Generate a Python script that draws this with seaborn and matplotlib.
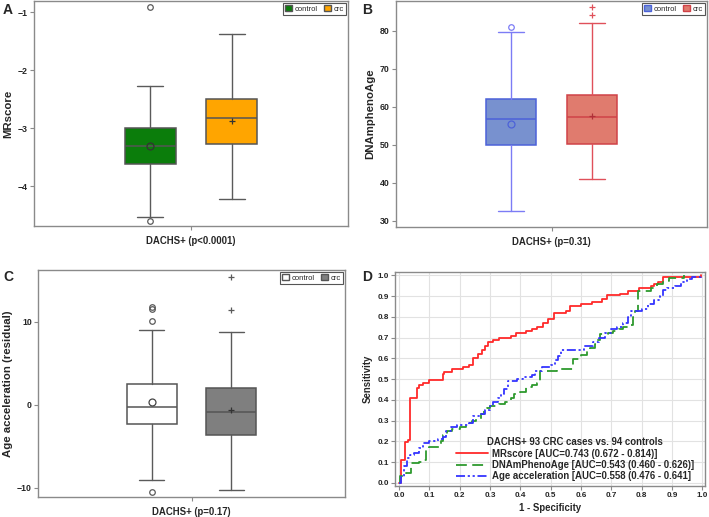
import numpy as np
import pandas as pd
import seaborn as sns
import matplotlib.pyplot as plt
from matplotlib.patches import Patch

# groups / category labels
groups = ["control", "crc"]

# panel A - MRscore box summaries (control, crc)
mr_q1 = [-3.62, -3.27]
mr_med = [-3.31, -2.82]
mr_q3 = [-3.00, -2.50]
mr_lo = [-4.52, -4.22]
mr_hi = [-2.27, -1.38]
mr_mean = [-3.31, -2.87]
mr_out = [[-0.91, -4.60], []]

# panel B - DNAmPhenoAge
ph_q1 = [50.0, 50.1]
ph_med = [56.7, 57.4]
ph_q3 = [62.0, 63.0]
ph_lo = [32.7, 40.9]
ph_hi = [79.7, 81.9]
ph_mean = [55.6, 57.6]
ph_out = [[81.0], [84.2, 86.2]]

# panel C - age acceleration (residual)
aa_q1 = [-2.3, -3.6]
aa_med = [-0.3, -0.85]
aa_q3 = [2.45, 2.05]
aa_lo = [-9.1, -10.3]
aa_hi = [8.95, 8.75]
aa_mean = [0.36, -0.6]
aa_out = [[10.1, 11.55, 11.75, -10.5], [15.4, 11.4]]

# panel D - ROC step curves (fpr where step starts, sensitivity)
red_fpr = [0, 0.008, 0.019, 0.03, 0.037, 0.059, 0.066, 0.079, 0.10, 0.145, 0.15, 0.175,
           0.21, 0.23, 0.245, 0.26, 0.275, 0.285, 0.295, 0.31, 0.33, 0.37, 0.385, 0.42,
           0.44, 0.455, 0.475, 0.49, 0.51, 0.55, 0.565, 0.60, 0.635, 0.67, 0.685, 0.73,
           0.755, 0.79, 0.83, 0.84, 0.855, 0.87, 0.995]
red_tpr = [0, 0.11, 0.195, 0.205, 0.41, 0.455, 0.47, 0.48, 0.495, 0.525, 0.535, 0.55,
           0.56, 0.57, 0.60, 0.62, 0.64, 0.66, 0.68, 0.69, 0.70, 0.71, 0.72, 0.73,
           0.74, 0.75, 0.77, 0.79, 0.82, 0.83, 0.85, 0.86, 0.87, 0.885, 0.905, 0.91,
           0.925, 0.94, 0.95, 0.96, 0.97, 0.99, 1.0]

green_fpr = [0, 0.003, 0.024, 0.04, 0.066, 0.08, 0.09, 0.10, 0.14, 0.145, 0.16, 0.175,
             0.20, 0.22, 0.24, 0.255, 0.27, 0.28, 0.29, 0.30, 0.33, 0.35, 0.37, 0.38,
             0.40, 0.42, 0.44, 0.455, 0.465, 0.52, 0.574, 0.60, 0.62, 0.63, 0.645, 0.65,
             0.662, 0.69, 0.706, 0.725, 0.74, 0.755, 0.77, 0.778, 0.788, 0.83, 0.85,
             0.87, 0.89, 0.94]
green_tpr = [0, 0.035, 0.05, 0.094, 0.10, 0.11, 0.165, 0.175, 0.20, 0.23, 0.25, 0.26,
             0.27, 0.29, 0.30, 0.31, 0.33, 0.35, 0.36, 0.37, 0.38, 0.39, 0.41, 0.43,
             0.44, 0.46, 0.47, 0.48, 0.54, 0.55, 0.595, 0.615, 0.635, 0.65, 0.67, 0.69,
             0.715, 0.72, 0.73, 0.74, 0.75, 0.76, 0.80, 0.83, 0.925, 0.94, 0.96,
             0.975, 0.987, 1.0]

blue_fpr = [0, 0.008, 0.016, 0.025, 0.035, 0.05, 0.065, 0.08, 0.10, 0.13, 0.145, 0.155,
            0.17, 0.19, 0.23, 0.245, 0.27, 0.285, 0.30, 0.31, 0.325, 0.335, 0.345, 0.36,
            0.39, 0.41, 0.44, 0.45, 0.47, 0.50, 0.515, 0.525, 0.535, 0.61, 0.64, 0.66,
            0.68, 0.70, 0.72, 0.74, 0.755, 0.765, 0.80, 0.82, 0.84, 0.86, 0.87, 0.885,
            0.91, 0.93, 0.95, 0.965, 0.995]
blue_tpr = [0, 0.03, 0.08, 0.12, 0.135, 0.145, 0.17, 0.19, 0.20, 0.21, 0.22, 0.25,
            0.27, 0.28, 0.29, 0.32, 0.33, 0.35, 0.37, 0.39, 0.41, 0.43, 0.45, 0.49,
            0.50, 0.51, 0.52, 0.54, 0.56, 0.57, 0.59, 0.61, 0.64, 0.66, 0.68, 0.70,
            0.72, 0.74, 0.75, 0.77, 0.80, 0.83, 0.84, 0.86, 0.88, 0.90, 0.93, 0.94,
            0.95, 0.97, 0.98, 0.99, 1.0]

roc_labels = ["MRscore [AUC=0.743 (0.672 - 0.814)]",
              "DNAmPhenoAge [AUC=0.543 (0.460 - 0.626)]",
              "Age acceleration [AUC=0.558 (0.476 - 0.641]"]

sns.set_theme(style="white")
plt.rcParams["font.family"] = ["Liberation Sans", "DejaVu Sans"]
plt.rcParams["font.weight"] = "bold"
plt.rcParams["axes.labelweight"] = "bold"

FRAME = "#8a8a8a"
W, H = 709, 517


def px_axes(fig, left, top, right, bottom):
    return fig.add_axes([left / W, 1 - bottom / H, (right - left) / W, (bottom - top) / H])


def style_frame(ax, size):
    for s in ax.spines.values():
        s.set_color(FRAME)
        s.set_linewidth(1.0)
    ax.tick_params(axis="both", which="both", direction="out", length=3, width=0.8,
                   color=FRAME, labelsize=size, pad=1.5, left=True, bottom=True)
    for lab in ax.get_yticklabels() + ax.get_xticklabels():
        lab.set_fontweight("bold")


def draw_boxes(ax, q1, med, q3, lo, hi, mean, out, faces, edges, whisk, meanc, marks):
    pos = [-0.2, 0.2]
    for i in range(2):
        st = [dict(q1=q1[i], med=med[i], q3=q3[i], whislo=lo[i], whishi=hi[i],
                   mean=mean[i], fliers=out[i], label=groups[i])]
        ax.bxp(st, positions=[pos[i]], widths=0.25, capwidths=0.125, patch_artist=True,
               showmeans=True, manage_ticks=False,
               boxprops=dict(facecolor=faces[i], edgecolor=edges[i], linewidth=1.1),
               whiskerprops=dict(color=whisk[i], linewidth=1.0),
               capprops=dict(color=whisk[i], linewidth=1.0),
               medianprops=dict(color=edges[i], linewidth=1.1),
               meanprops=dict(marker=marks[i], markerfacecolor="none",
                              markeredgecolor=meanc[i], markersize=5, markeredgewidth=0.9),
               flierprops=dict(marker=marks[i], markerfacecolor="none",
                               markeredgecolor=whisk[i], markersize=4, markeredgewidth=0.9))
    ax.set_xlim(-0.77, 0.77)
    ax.set_xticks([0])
    ax.set_xticklabels([""])
    ax.set_facecolor("white")
    style_frame(ax, 6.3)
    handles = [Patch(facecolor=faces[j], edgecolor=edges[j], label=groups[j]) for j in range(2)]
    leg = ax.legend(handles=handles, loc="upper right", ncol=2, fontsize=5.5,
                    frameon=True, fancybox=False, edgecolor="#555555", framealpha=1,
                    handlelength=0.9, handleheight=0.9, handletextpad=0.4,
                    columnspacing=0.8, borderpad=0.25, borderaxespad=0.25)
    leg.get_frame().set_linewidth(0.8)
    for t in leg.get_texts():
        t.set_fontweight("normal")


fig = plt.figure(figsize=(W / 100, H / 100), dpi=100)
fig.patch.set_facecolor("white")

# ---- A
axA = px_axes(fig, 34, 1, 348, 226)
draw_boxes(axA, mr_q1, mr_med, mr_q3, mr_lo, mr_hi, mr_mean, mr_out,
           faces=["#0b7d0b", "#ffa500"], edges=["#555555", "#555555"],
           whisk=["#5a5a5a", "#5a5a5a"], meanc=["#333333", "#333333"], marks=["o", "+"])
axA.set_ylim(-4.68, -0.81)
axA.set_yticks([-4, -3, -2, -1])
axA.set_ylabel("MRscore", fontsize=8.2, labelpad=3)
axA.set_xlabel("DACHS+ (p<0.0001)", fontsize=6.9, labelpad=3)

# ---- B
axB = px_axes(fig, 396, 1, 707, 227)
draw_boxes(axB, ph_q1, ph_med, ph_q3, ph_lo, ph_hi, ph_mean, ph_out,
           faces=["#7891cf", "#e07b6e"], edges=["#4c62d9", "#d04248"],
           whisk=["#7c7cf5", "#e0505a"], meanc=["#4c62d9", "#b03038"], marks=["o", "+"])
axB.set_ylim(28.4, 87.8)
axB.set_yticks([30, 40, 50, 60, 70, 80])
axB.set_ylabel("DNAmphenoAge", fontsize=8.2, labelpad=3)
axB.set_xlabel("DACHS+ (p=0.31)", fontsize=6.9, labelpad=3)

# ---- C
axC = px_axes(fig, 38, 270, 345, 497)
draw_boxes(axC, aa_q1, aa_med, aa_q3, aa_lo, aa_hi, aa_mean, aa_out,
           faces=["white", "#7f7f7f"], edges=["#555555", "#555555"],
           whisk=["#5a5a5a", "#5a5a5a"], meanc=["#444444", "#333333"], marks=["o", "+"])
axC.set_ylim(-11.1, 16.2)
axC.set_yticks([-10, 0, 10])
axC.set_ylabel("Age acceleration (residual)", fontsize=8.2, labelpad=3)
axC.set_xlabel("DACHS+ (p=0.17)", fontsize=6.9, labelpad=3)

# ---- D
axD = px_axes(fig, 395, 272, 705, 486)
axD.set_facecolor("white")
curves = [(red_fpr, red_tpr, "#ff2a2a", "-"),
          (green_fpr, green_tpr, "#2e9a2e", (0, (6, 3))),
          (blue_fpr, blue_tpr, "#3535ff", (0, (5, 1.5, 1.2, 1.5, 1.2, 1.5)))]
for (fx, ty, col, ls), lab in zip(curves, roc_labels):
    df = pd.DataFrame({"fpr": fx, "tpr": ty})
    sns.lineplot(data=df, x="fpr", y="tpr", ax=axD, color=col, linestyle=ls,
                 linewidth=1.3, drawstyle="steps-post", estimator=None, sort=False,
                 label=lab)
axD.set_xlim(-0.013, 1.009)
axD.set_ylim(-0.015, 1.016)
ticks = np.round(np.arange(0, 1.01, 0.1), 1)
axD.set_xticks(ticks)
axD.set_yticks(ticks)
axD.set_xticklabels([f"{t:.1f}" for t in ticks])
axD.set_yticklabels([f"{t:.1f}" for t in ticks])
axD.grid(True, color="#e2e2e2", linewidth=0.8)
axD.set_axisbelow(True)
style_frame(axD, 5.9)
axD.set_xlabel("1 - Specificity", fontsize=6.9, labelpad=3)
axD.set_ylabel("Sensitivity", fontsize=6.9, labelpad=3)
leg = axD.legend(title="DACHS+ 93 CRC cases vs. 94 controls", loc="lower right",
                 bbox_to_anchor=(0.985, -0.01), frameon=False,
                 prop={"weight": "bold", "size": 6.9},
                 title_fontproperties={"weight": "bold", "size": 6.9},
                 handlelength=3.3, handletextpad=0.4, labelspacing=0.15,
                 borderpad=0.2)

# panel letters
for letter, x, y in [("A", 3, 3), ("B", 362, 3), ("C", 3, 270), ("D", 362, 270)]:
    fig.text(x / W, 1 - y / H, letter, fontsize=10, fontweight="bold", va="top", ha="left")

fig.savefig("out.png", dpi=100, facecolor="white")
